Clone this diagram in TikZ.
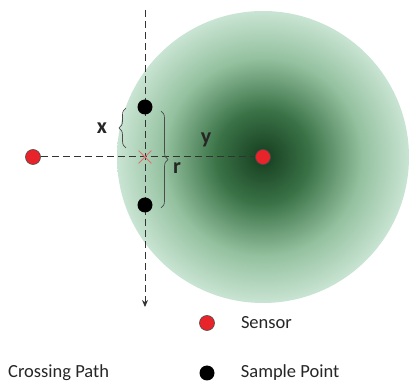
\documentclass[tikz,border=0pt]{standalone}
\usepackage{fontspec}
\setmainfont{Carlito}
\usetikzlibrary{positioning, arrows.meta, shapes.misc, decorations.pathreplacing, backgrounds}
\definecolor{fieldDark}{HTML}{153D1F}
\definecolor{fieldMid}{HTML}{3A7246}
\definecolor{fieldLight}{HTML}{94C19F}
\definecolor{fieldEdge}{HTML}{C9E4D3}
\definecolor{sensorRed}{HTML}{E8232A}
\definecolor{pathGray}{HTML}{333333}
\definecolor{crossRed}{HTML}{E07070}
\pgfdeclareradialshading{sensorfield}{\pgfpoint{0bp}{0bp}}{color(0bp)=(fieldDark); color(8bp)=(fieldMid); color(17bp)=(fieldLight); color(25bp)=(fieldEdge); color(50bp)=(fieldEdge)}

\begin{document}
\begin{tikzpicture}[x=1pt, y=-1pt,
    sensor/.style={circle, fill=sensorRed, draw=black!70, line width=0.6pt, minimum size=15pt, inner sep=0pt},
    sample/.style={circle, fill=black, minimum size=15pt, inner sep=0pt},
    dashpath/.style={pathGray, line width=1pt, dash pattern=on 7pt off 4pt},
    curly/.style={decorate, decoration={brace, amplitude=7pt}, black!70, line width=0.7pt},
    lbl/.style={font=\fontsize{18.5}{22}\selectfont, text=black!85, anchor=west, inner sep=0pt},
    sym/.style={font=\fontsize{22}{26}\selectfont\bfseries, text=black!85, inner sep=0pt}]
  \useasboundingbox (0,0) rectangle (416,390);

  \node[sensor] (sensorL) at (33,157) {};
  \node[sensor] (sensorR) at (263,157) {};
  \node[sample] (upper) at (145,107) {};
  \node[sample] (lower) at (145,205) {};
  \node[cross out, draw=crossRed, line width=0.8pt, minimum size=12pt, inner sep=0pt] (cross) at (145,157) {};
  \coordinate (pathTop) at (145,10);
  \coordinate (pathEnd) at (145,307);

  \begin{scope}[on background layer]
    \shade[shading=sensorfield] (sensorR) circle[radius=146];
    \draw[dashpath] (sensorL) -- (sensorR);
    \draw[dashpath, -{Stealth[length=7pt, width=6pt]}] (pathTop) -- (pathEnd);
  \end{scope}

  % distances
  \draw[curly] ([xshift=-19pt, yshift=9pt]cross.center) -- ([xshift=-19pt, yshift=-1pt]upper.center);
  \node[sym] (xlbl) at (102,128) {x};
  \draw[curly] ([xshift=16pt, yshift=-4pt]upper.center) -- ([xshift=16pt, yshift=-3pt]lower.center);
  \node[sym] (rlbl) at (177,168) {r};
  \node[sym] (ylbl) at (206,140) {y};

  % legend
  \node[sensor] (keySensor) at (207,323) {};
  \node[lbl, right=26pt of keySensor] (keySensorTxt) {Sensor};
  \node[sample] (keySample) at (207,373) {};
  \node[lbl, right=26pt of keySample] (keySampleTxt) {Sample Point};
  \node[lbl] (keyPath) at (8,373) {Crossing Path};
\end{tikzpicture}
\end{document}
